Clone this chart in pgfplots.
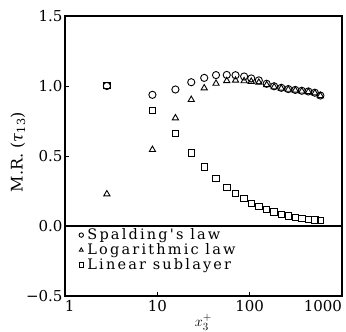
\documentclass[border=0pt]{standalone}
\usepackage{fontspec}
\setmainfont{DejaVu Serif}
\newfontfamily\legfont[LetterSpace=15]{DejaVu Serif}
\usepackage{pgfplots}
\usepackage{pgfplotstable}
\pgfplotsset{compat=1.18}
\pgfplotstableread{
x S L Lin
2.84 1.000 0.228 1.003
8.85 0.937 0.545 0.826
15.7 0.975 0.771 0.660
23.3 1.027 0.902 0.522
32.2 1.058 0.985 0.422
43.2 1.078 1.018 0.340
56.5 1.079 1.037 0.275
70.3 1.077 1.040 0.232
87.1 1.068 1.036 0.195
104 1.054 1.032 0.161
125.6 1.040 1.025 0.140
152.8 1.016 1.008 0.119
184 0.998 0.993 0.101
220 0.987 0.983 0.083
262 0.978 0.975 0.071
312 0.972 0.969 0.062
367 0.966 0.963 0.053
432 0.961 0.958 0.047
508 0.952 0.949 0.042
583 0.932 0.930 0.038
}\data
\begin{document}
\begin{tikzpicture}
\begin{axis}[
  scale only axis, width=277pt, height=280pt,
  xmode=log, xmin=1, xmax=1000, ymin=-0.5, ymax=1.5,
  xtick={1,10,100,1000},
  xticklabels={\makebox[0pt][l]{1},10,100,\makebox[0pt][r]{1000}},
  ytick={-0.5,0,0.5,1,1.5},
  yticklabels={−0.5,0.0,0.5,1.0,1.5},
  minor xtick={}, xminorticks=false,
  tick pos=left, tick align=inside, major tick length=4pt,
  tick style={line width=0.8pt, black},
  ticklabel style={font=\fontsize{15}{15}\selectfont},
  xticklabel style={yshift=-1pt},
  yticklabel style={xshift=1pt},
  axis line style={line width=1.2pt},
  ylabel={M.R. (\textit{τ}\textsubscript{13})},
  ylabel style={at={(axis description cs:-0.17,0.514)}, anchor=center, font=\fontsize{16}{16}\selectfont},
  xlabel={$x_3^+$},
  xlabel style={at={(axis description cs:0.5,-0.126)}, anchor=south, inner sep=1pt, font=\fontsize{15}{15}\selectfont},
  legend style={draw=none, fill=none, at={(axis description cs:0.05,0.245)}, anchor=north west,
    font=\legfont\fontsize{14.5}{14.5}\selectfont, row sep=0pt, inner sep=0pt, column sep=3pt,
    nodes={inner sep=1pt, text height=10.5pt, text depth=2.5pt}},
  legend cell align=left,
  legend image post style={mark size=2.2pt},
]
\addplot[black, line width=1.2pt, forget plot] coordinates {(1,0) (1000,0)};
\addplot[only marks, mark=o, mark size=3.6pt, mark options={line width=0.9pt, black}] table[x=x, y=S] {\data};
\addlegendentry{Spalding's law}
\addplot[only marks, mark=triangle, mark size=3.6pt, mark options={line width=0.9pt, black}] table[x=x, y=L] {\data};
\addlegendentry{Logarithmic law}
\addplot[only marks, mark=square, mark size=3.2pt, mark options={line width=0.9pt, black}] table[x=x, y=Lin] {\data};
\addlegendentry{Linear sublayer}
\end{axis}
\pgfresetboundingbox
\path[use as bounding box] ([xshift=-65pt,yshift=-36pt]current axis.south west) rectangle ([xshift=4pt,yshift=16pt]current axis.north east);
\end{tikzpicture}
\end{document}
